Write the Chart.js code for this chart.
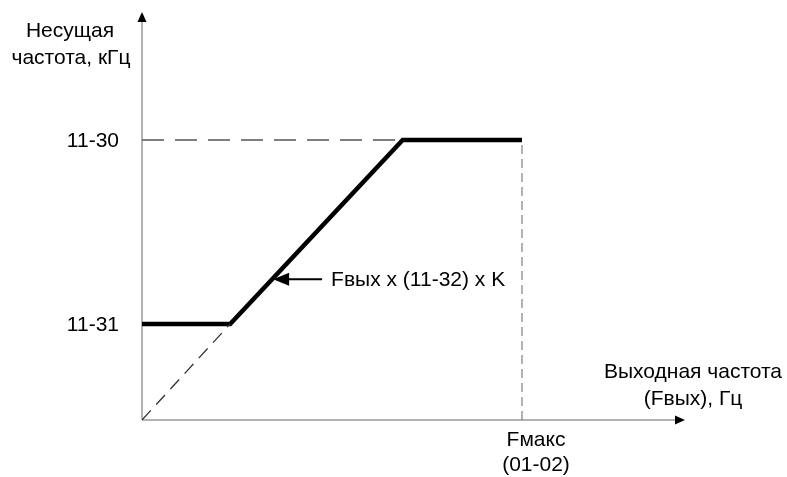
<!DOCTYPE html>
<html>
<head>
<meta charset="utf-8">
<script src="https://cdn.jsdelivr.net/npm/chart.js@4"></script>
<style>
  body { margin: 0; background: #fff; }
  canvas { display: block; }
</style>
</head>
<body>
<canvas id="carrierChart" width="787" height="477"></canvas>
<script>
// output frequency in % of Fмакс, carrier frequency in % of 11-30
const outFreq = [0, 23.2, 68.6, 100];
const carrierFreq = [34.3, 34.3, 100, 100];

const yTickValues = [34.3, 100];
const yTickLabels = ['11-31', '11-30'];

const fMax = 100;
const slopeLowX = [0, 23.2];
const slopeLowY = [0, 34.3];

const annotX = 34.5;
const annotY = 50.3;
const annotText = 'Fвых x (11-32) x K';

const yTitle = ['Несущая', 'частота, кГц'];
const xTitle = ['Выходная частота', '(Fвых), Гц'];
const fMaxLabel = ['Fмакс', '(01-02)'];

const FONT = '21px "Liberation Sans", Arial, sans-serif';

function pts(xs, ys) {
  return xs.map((x, i) => ({ x: x, y: ys[i] }));
}

const decor = {
  id: 'decor',
  beforeDatasetsDraw(chart) {
    const { ctx, chartArea: a } = chart;
    ctx.save();
    // axes
    ctx.strokeStyle = '#9a9a9a';
    ctx.lineWidth = 1.5;
    ctx.beginPath();
    ctx.moveTo(a.left, a.bottom);
    ctx.lineTo(a.left, a.top + 8);
    ctx.moveTo(a.left, a.bottom);
    ctx.lineTo(a.right - 8, a.bottom);
    ctx.stroke();
    ctx.fillStyle = '#000';
    ctx.beginPath();
    ctx.moveTo(a.left, a.top);
    ctx.lineTo(a.left - 4.5, a.top + 10);
    ctx.lineTo(a.left + 4.5, a.top + 10);
    ctx.closePath();
    ctx.fill();
    ctx.beginPath();
    ctx.moveTo(a.right, a.bottom);
    ctx.lineTo(a.right - 10, a.bottom - 4.5);
    ctx.lineTo(a.right - 10, a.bottom + 4.5);
    ctx.closePath();
    ctx.fill();
    ctx.restore();
  },
  afterDatasetsDraw(chart) {
    const { ctx, chartArea: a, scales: { x, y } } = chart;
    ctx.save();
    ctx.fillStyle = '#000';
    ctx.font = FONT;

    // y tick labels
    ctx.textAlign = 'right';
    ctx.textBaseline = 'middle';
    yTickValues.forEach((v, i) => {
      ctx.fillText(yTickLabels[i], a.left - 23, y.getPixelForValue(v) + 1);
    });

    // axis titles
    ctx.textAlign = 'center';
    ctx.textBaseline = 'alphabetic';
    ctx.fillText(yTitle[0], 70, 37);
    ctx.fillText(yTitle[1], 71, 64);
    ctx.fillText(xTitle[0], 693, 378);
    ctx.fillText(xTitle[1], 693, 405);
    const fx = x.getPixelForValue(fMax) + 14;
    ctx.fillText(fMaxLabel[0], fx, 446);
    ctx.fillText(fMaxLabel[1], fx, 471);

    // annotation arrow
    const tx = x.getPixelForValue(annotX);
    const ty = y.getPixelForValue(annotY);
    ctx.strokeStyle = '#000';
    ctx.lineWidth = 2;
    ctx.beginPath();
    ctx.moveTo(tx + 12, ty);
    ctx.lineTo(tx + 49, ty);
    ctx.stroke();
    ctx.beginPath();
    ctx.moveTo(tx, ty);
    ctx.lineTo(tx + 16, ty - 6.5);
    ctx.lineTo(tx + 16, ty + 6.5);
    ctx.closePath();
    ctx.fill();
    ctx.textAlign = 'left';
    ctx.textBaseline = 'middle';
    ctx.fillText(annotText, tx + 58, ty + 1);
    ctx.restore();
  }
};

new Chart(document.getElementById('carrierChart'), {
  type: 'line',
  data: {
    datasets: [
      {
        data: pts([0, outFreq[2]], [carrierFreq[2], carrierFreq[2]]),
        borderColor: '#555',
        borderWidth: 1.5,
        borderDash: [22, 11],
        pointRadius: 0
      },
      {
        data: pts([fMax, fMax], [0, carrierFreq[3]]),
        borderColor: '#666',
        borderWidth: 1,
        borderDash: [9, 5],
        pointRadius: 0
      },
      {
        data: pts(slopeLowX, slopeLowY),
        borderColor: '#333',
        borderWidth: 1.3,
        borderDash: [13, 8],
        pointRadius: 0
      },
      {
        data: pts(outFreq, carrierFreq),
        borderColor: '#000',
        borderWidth: 4.5,
        borderJoinStyle: 'miter',
        pointRadius: 0
      }
    ]
  },
  options: {
    responsive: false,
    animation: false,
    layout: { padding: { left: 142, right: 102, top: 12, bottom: 57 } },
    plugins: { legend: { display: false }, tooltip: { enabled: false } },
    scales: {
      x: { type: 'linear', min: 0, max: 142.9, display: false },
      y: { type: 'linear', min: 0, max: 145.7, display: false }
    }
  },
  plugins: [decor]
});
</script>
</body>
</html>
